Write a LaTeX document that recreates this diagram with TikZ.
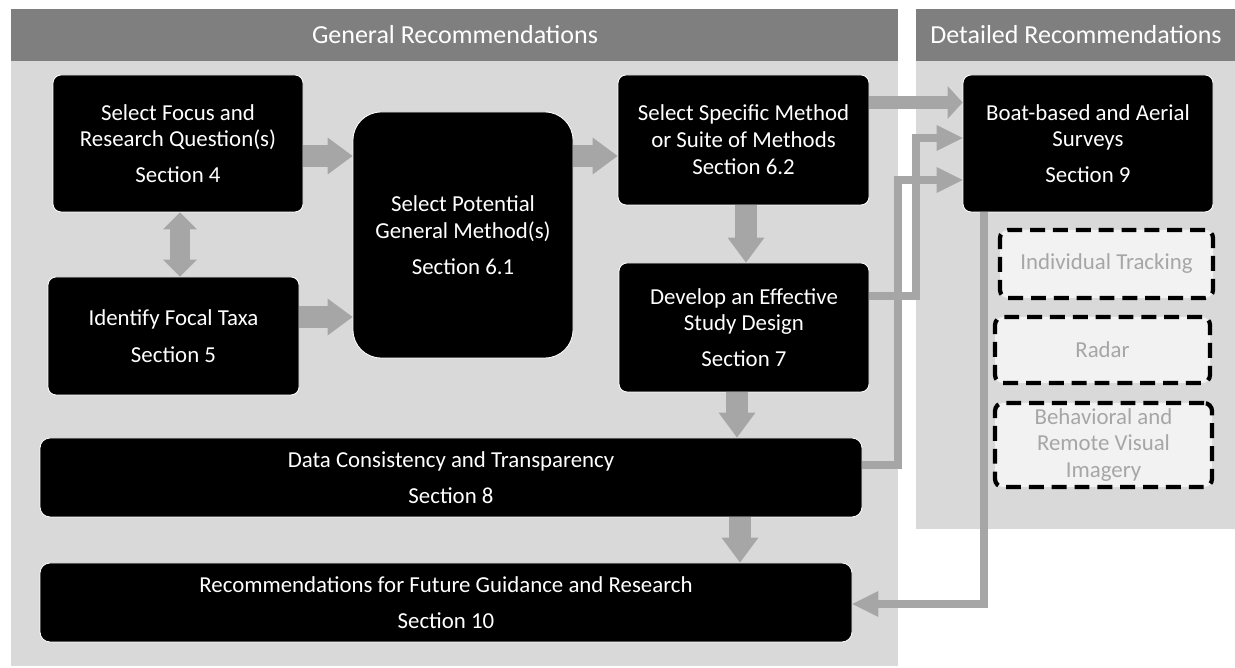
\documentclass[tikz,border=0pt]{standalone}
\usepackage{fontspec}
\setmainfont{Carlito}
\usepackage{xcolor}
\usetikzlibrary{arrows.meta,calc}
\definecolor{headgray}{HTML}{7F7F7F}
\definecolor{panelgray}{HTML}{D9D9D9}
\definecolor{arrowgray}{HTML}{A6A6A6}
\definecolor{palebox}{HTML}{F2F2F2}
\newcommand{\boxfont}{\fontsize{13}{15.3}\selectfont}
\newcommand{\headfont}{\fontsize{14.8}{17}\selectfont}
\tikzset{
	blackbox/.style={draw=white, line width=0.5pt, fill=black, text=white,
			rounded corners=1.6mm, align=center, font=\boxfont, inner sep=0pt},
	dimbox/.style={draw=black, line width=2.4pt, dash pattern=on 8.5pt off 4.5pt,
			fill=palebox, text=arrowgray, rounded corners=1.6mm, align=center,
			font=\boxfont, inner sep=0pt},
	boxsize/.style 2 args={minimum width=#1*0.2mm, minimum height=#2*0.2mm},
	fatarrow/.style={draw=arrowgray, line width=4.4mm,
			-{Triangle[length=5mm, width=7.4mm, line width=0pt]}},
	slimarrow/.style={draw=arrowgray, line width=1.6mm,
			-{Triangle[length=5.2mm, width=5.2mm, line width=0pt]}}
}

\begin{document}
\begin{tikzpicture}[x=0.2mm,y=-0.2mm]
	\useasboundingbox (0,0) rectangle (1235,668);

	% panels
	\fill[panelgray] (11,9) rectangle (898,666);
	\fill[headgray] (11,9) rectangle (898,61);
	\fill[panelgray] (916,9) rectangle (1235,529);
	\fill[headgray] (916,9) rectangle (1235,61);
	\node[text=white, font=\headfont] (genhead) at (455,35) {General Recommendations};
	\node[text=white, font=\headfont] (dethead) at (1076,35) {Detailed Recommendations};

	% general steps
	\node[blackbox, boxsize={250}{137}] (focus) at (178,143.5)
		{Select Focus and\\Research Question(s)\\[5pt]Section 4};
	\node[blackbox, boxsize={251}{118}] (taxa) at (173.5,336)
		{Identify Focal Taxa\\[5.5pt]Section 5};
	\node[blackbox, boxsize={220}{246}, rounded corners=5.6mm] (pot) at (463,235)
		{Select Potential\\General Method(s)\\[5pt]Section 6.1};
	\node[blackbox, boxsize={251}{130}] (spec) at (743.5,140)
		{Select Specific Method\\or Suite of Methods\\Section 6.2};
	\node[blackbox, boxsize={250}{129}] (design) at (744,327.5)
		{Develop an Effective\\Study Design\\[5pt]Section 7};
	\node[blackbox, boxsize={822}{79}, rounded corners=2mm] (data) at (451,477.5)
		{Data Consistency and Transparency\\[5.5pt]Section 8};
	\node[blackbox, boxsize={812}{79}, rounded corners=2mm] (future) at (446,602.5)
		{Recommendations for Future Guidance and Research\\[5.5pt]Section 10};

	% detailed steps
	\node[blackbox, boxsize={250}{137}] (boat) at (1088,143.5)
		{Boat-based and Aerial\\Surveys\\[5pt]Section 9};
	\node[dimbox, boxsize={213}{68}] (track) at (1106.5,264) {Individual Tracking};
	\node[dimbox, boxsize={215}{66}] (radar) at (1102.5,350) {Radar};
	\node[dimbox, boxsize={217}{84}] (behav) at (1103.5,445)
		{Behavioral and\\Remote Visual\\Imagery};

	% bends of the long connectors
	\coordinate (bendA) at (916,138);
	\coordinate (bendB) at (898,180);

	% flow arrows
	\draw[fatarrow] (focus.east |- 0,156) -- (pot.west |- 0,156);
	\draw[fatarrow] (taxa.east |- 0,317) -- (pot.west |- 0,317);
	\draw[fatarrow] (pot.east |- 0,156) -- (spec.west |- 0,156);
	\draw[draw=arrowgray, line width=4mm,
		{Triangle[length=3.4mm, width=6.8mm, line width=0pt]}-{Triangle[length=3.4mm, width=6.8mm, line width=0pt]}]
		(focus.south -| 180,0) -- (taxa.north -| 180,0);
	\draw[fatarrow] (spec.south -| 746,0) -- (design.north -| 746,0);
	\draw[fatarrow] (design.south -| 737,0) -- (data.north -| 737,0);
	\draw[fatarrow] (data.south -| 740,0) -- (future.north -| 740,0);

	% to and from section 9
	\draw[draw=arrowgray, line width=2.6mm,
		-{Triangle[length=3mm, width=6.6mm, line width=0pt]}]
		(spec.east |- 0,102.5) -- (boat.west |- 0,102.5);
	\draw[slimarrow] (design.east |- 0,296) -| (bendA) -- (boat.west |- bendA);
	\draw[slimarrow] (data.east |- 0,465) -| (bendB) -- (boat.west |- bendB);
	\draw[slimarrow] (boat.south -| 984,0) |- (future.east |- 0,604);
\end{tikzpicture}
\end{document}
